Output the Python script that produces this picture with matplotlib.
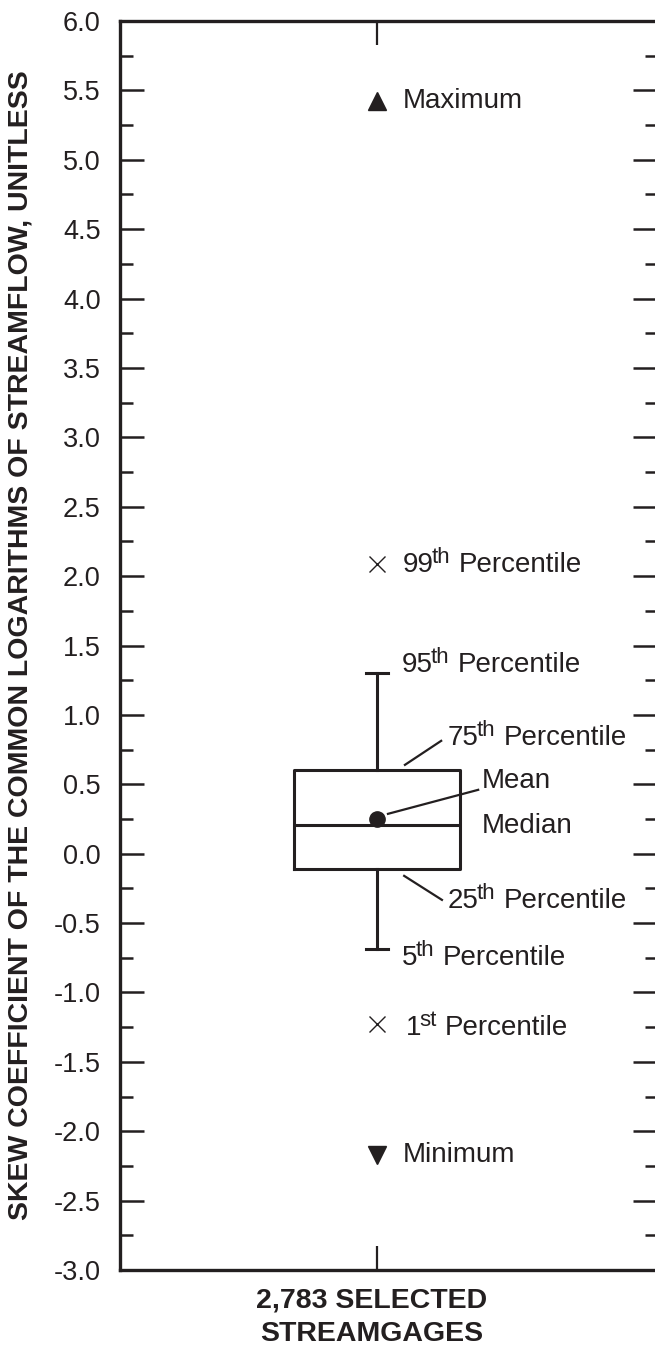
import matplotlib
matplotlib.use("Agg")
import matplotlib.pyplot as plt
import matplotlib.transforms as mtransforms
from matplotlib.ticker import MultipleLocator, FormatStrFormatter

plt.rcParams['font.family'] = ['Liberation Sans', 'DejaVu Sans']
plt.rcParams['axes.unicode_minus'] = False

# skew coefficient statistics, 2,783 streamgages
group_label = "2,783 SELECTED\nSTREAMGAGES"
stat_names = ["Minimum", "1st", "5th", "25th", "Median", "Mean", "75th", "95th", "99th", "Maximum"]
stat_values = [-2.17, -1.23, -0.69, -0.11, 0.21, 0.25, 0.60, 1.30, 2.09, 5.42]
s = dict(zip(stat_names, stat_values))

ink = '#231f20'
fs = 20

fig = plt.figure(figsize=(6.55, 13.48), dpi=100)
ax = fig.add_axes([120/655, 78/1348, 537/655, 1249/1348])
renderer = fig.canvas.get_renderer()

box = {'med': s["Median"], 'q1': s["25th"], 'q3': s["75th"],
       'whislo': s["5th"], 'whishi': s["95th"], 'mean': s["Mean"], 'fliers': []}
ax.bxp([box], positions=[1], widths=0.646, capwidths=0.086, showmeans=True,
       boxprops=dict(color=ink, lw=2.2),
       medianprops=dict(color=ink, lw=2.2),
       whiskerprops=dict(color=ink, lw=2.2),
       capprops=dict(color=ink, lw=2.2),
       meanprops=dict(marker='o', markerfacecolor=ink, markeredgecolor=ink, markersize=11))

ax.plot([1], [s["Maximum"]], marker='^', color=ink, ms=13.5, ls='none')
ax.plot([1], [s["Minimum"]], marker='v', color=ink, ms=13.5, ls='none')
ax.plot([1, 1], [s["99th"], s["1st"]], marker='x', color=ink, ms=12, mew=1.0, ls='none')


def pct_label(x, y, num, sup):
    # number, raised suffix, then "Percentile"
    t1 = ax.text(x, y, num, fontsize=fs, va='baseline', color=ink)
    w1 = t1.get_window_extent(renderer).width * 72 / fig.dpi
    tr = mtransforms.offset_copy(ax.transData, fig=fig, x=w1 - 1.5, y=6.5, units='points')
    t2 = ax.text(x, y, sup, fontsize=16, va='baseline', color=ink, transform=tr)
    w2 = t2.get_window_extent(renderer).width * 72 / fig.dpi
    tr = mtransforms.offset_copy(ax.transData, fig=fig, x=w1 + w2 + 4.5, y=0, units='points')
    ax.text(x, y, "Percentile", fontsize=fs, va='baseline', color=ink, transform=tr)


# labels
ax.text(1.10, s["Maximum"], "Maximum", fontsize=fs, va='center', color=ink)
pct_label(1.10, s["99th"] - 0.06, "99", "th")
pct_label(1.098, s["95th"] + 0.01, "95", "th")
pct_label(1.277, s["75th"] + 0.184, "75", "th")
ax.text(1.409, s["Mean"] + 0.275, "Mean", fontsize=fs, va='center', color=ink)
ax.text(1.409, s["Median"] - 0.01, "Median", fontsize=fs, va='center', color=ink)
pct_label(1.277, s["25th"] - 0.28, "25", "th")
pct_label(1.098, s["5th"] - 0.11, "5", "th")
pct_label(1.113, s["1st"] - 0.075, "1", "st")
ax.text(1.10, s["Minimum"], "Minimum", fontsize=fs, va='center', color=ink)

# leader lines
ax.plot([1.109, 1.250], [s["75th"] + 0.04, s["75th"] + 0.213], color=ink, lw=1.6)
ax.plot([1.043, 1.394], [s["Mean"] + 0.037, s["Mean"] + 0.21], color=ink, lw=1.6)
ax.plot([1.106, 1.253], [s["25th"] - 0.05, s["25th"] - 0.223], color=ink, lw=1.6)

ax.set_xlim(0, 2.09)
ax.set_ylim(-3.0, 6.0)
ax.yaxis.set_major_locator(MultipleLocator(0.5))
ax.yaxis.set_minor_locator(MultipleLocator(0.25))
ax.yaxis.set_major_formatter(FormatStrFormatter('%.1f'))
ax.set_xticks([1])
ax.set_xticklabels([''])
ax.tick_params(axis='y', which='major', direction='in', length=17, width=1.8,
               left=True, right=True, labelsize=19.5, pad=14, colors=ink)
ax.tick_params(axis='y', which='minor', direction='in', length=9, width=1.8,
               left=True, right=True, colors=ink)
ax.tick_params(axis='x', which='major', direction='in', length=17, width=1.6,
               top=True, bottom=True, colors=ink)
for sp in ax.spines.values():
    sp.set_linewidth(2.4)
    sp.set_color(ink)

ax.set_ylabel("SKEW COEFFICIENT OF THE COMMON LOGARITHMS OF STREAMFLOW, UNITLESS",
              fontsize=20.5, fontweight='bold', color=ink)
ax.yaxis.set_label_coords(-0.162, 0.5)
ax.set_xlabel(group_label, fontsize=20.5, fontweight='bold', color=ink, linespacing=1.4)
ax.xaxis.set_label_coords(0.469, -0.014)
ax.xaxis.label.set_va('top')

fig.savefig("out.png", dpi=100)
